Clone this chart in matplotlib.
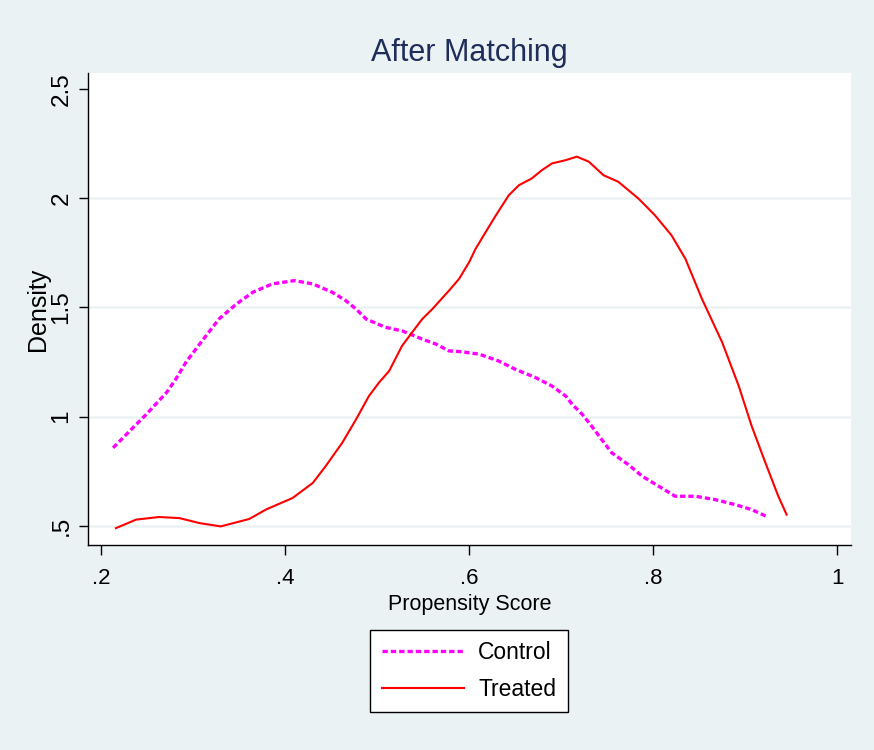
"""Kernel density of propensity scores after matching (Stata s2color look)."""

import matplotlib
matplotlib.use("Agg")
import matplotlib.pyplot as plt

# values
control_x = [0.213, 0.231, 0.249, 0.271, 0.281, 0.292, 0.307, 0.328, 0.347, 0.365,
             0.386, 0.410, 0.430, 0.451, 0.466, 0.477, 0.488, 0.509, 0.527, 0.549,
             0.564, 0.578, 0.592, 0.611, 0.632, 0.650, 0.672, 0.690, 0.705, 0.712,
             0.723, 0.733, 0.744, 0.755, 0.773, 0.788, 0.806, 0.824, 0.846, 0.867,
             0.889, 0.907, 0.923]
control_y = [0.857, 0.934, 1.010, 1.110, 1.171, 1.248, 1.332, 1.447, 1.516, 1.570,
             1.608, 1.623, 1.608, 1.570, 1.531, 1.493, 1.447, 1.409, 1.393, 1.355,
             1.332, 1.301, 1.297, 1.286, 1.255, 1.217, 1.179, 1.140, 1.094, 1.056,
             1.010, 0.957, 0.895, 0.834, 0.780, 0.727, 0.681, 0.635, 0.635, 0.620,
             0.597, 0.574, 0.543]

treated_x = [0.216, 0.238, 0.263, 0.285, 0.307, 0.330, 0.361, 0.379, 0.408, 0.430,
             0.444, 0.462, 0.477, 0.491, 0.502, 0.513, 0.527, 0.538, 0.549, 0.560,
             0.578, 0.589, 0.600, 0.607, 0.618, 0.629, 0.643, 0.654, 0.668, 0.679,
             0.690, 0.705, 0.717, 0.730, 0.746, 0.762, 0.784, 0.802, 0.820, 0.835,
             0.853, 0.875, 0.893, 0.907, 0.922, 0.936, 0.945]
treated_y = [0.489, 0.528, 0.540, 0.535, 0.512, 0.497, 0.531, 0.574, 0.627, 0.696,
             0.773, 0.880, 0.987, 1.094, 1.156, 1.209, 1.324, 1.386, 1.447, 1.493,
             1.577, 1.631, 1.708, 1.769, 1.846, 1.922, 2.014, 2.060, 2.091, 2.129,
             2.160, 2.175, 2.191, 2.168, 2.106, 2.076, 1.999, 1.922, 1.830, 1.723,
             1.539, 1.340, 1.140, 0.957, 0.788, 0.635, 0.551]

x_ticks = [0.2, 0.4, 0.6, 0.8, 1.0]
x_tick_labels = [".2", ".4", ".6", ".8", "1"]
y_ticks = [0.5, 1.0, 1.5, 2.0, 2.5]
y_tick_labels = [".5", "1", "1.5", "2", "2.5"]
y_grid = [0.5, 1.0, 1.5, 2.0]

BG = "#EAF2F3"
plt.rcParams["font.family"] = ["Liberation Sans", "DejaVu Sans"]

fig = plt.figure(figsize=(8.74, 7.5), dpi=100, facecolor=BG)
ax = fig.add_axes([0.101, 0.2737, 0.8727, 0.6286])
ax.set_facecolor("white")

for g in y_grid:
    ax.axhline(g, color=BG, linewidth=1.8, zorder=1)

ax.plot(control_x, control_y, color="#FF00FF", linewidth=2.4,
        linestyle=(0, (1.6, 0.9)), label="Control", zorder=3)
ax.plot(treated_x, treated_y, color="#FF0000", linewidth=1.5,
        label="Treated", zorder=3)

ax.set_xlim(0.186, 1.015)
ax.set_ylim(0.413, 2.573)
ax.set_xticks(x_ticks)
ax.set_xticklabels(x_tick_labels, fontsize=16)
ax.set_yticks(y_ticks)
ax.set_yticklabels(y_tick_labels, rotation=90, va="center", fontsize=17.5)

for side in ["top", "right"]:
    ax.spines[side].set_visible(False)
for side in ["left", "bottom"]:
    ax.spines[side].set_linewidth(1.0)
    ax.spines[side].set_color("black")

ax.tick_params(axis="x", direction="out", length=7, width=1, pad=10)
ax.tick_params(axis="y", direction="out", length=6.5, width=1, pad=5)

ax.set_xlabel("Propensity Score", fontsize=15.5, labelpad=3)
ax.set_ylabel("Density", fontsize=18, labelpad=0)
ax.set_title("After Matching", fontsize=22, color="#1E2D5A", pad=9)

leg = fig.legend(loc="center", bbox_to_anchor=(0.5366, 0.1053), fontsize=16.5,
                 frameon=True, fancybox=False, edgecolor="black",
                 handlelength=3.6, handletextpad=0.6, labelspacing=0.6,
                 borderpad=0.5, borderaxespad=0)
leg.get_frame().set_linewidth(1.0)
leg.get_frame().set_facecolor("white")
leg.get_frame().set_alpha(1)

fig.savefig("out.png", dpi=100, facecolor=BG)
